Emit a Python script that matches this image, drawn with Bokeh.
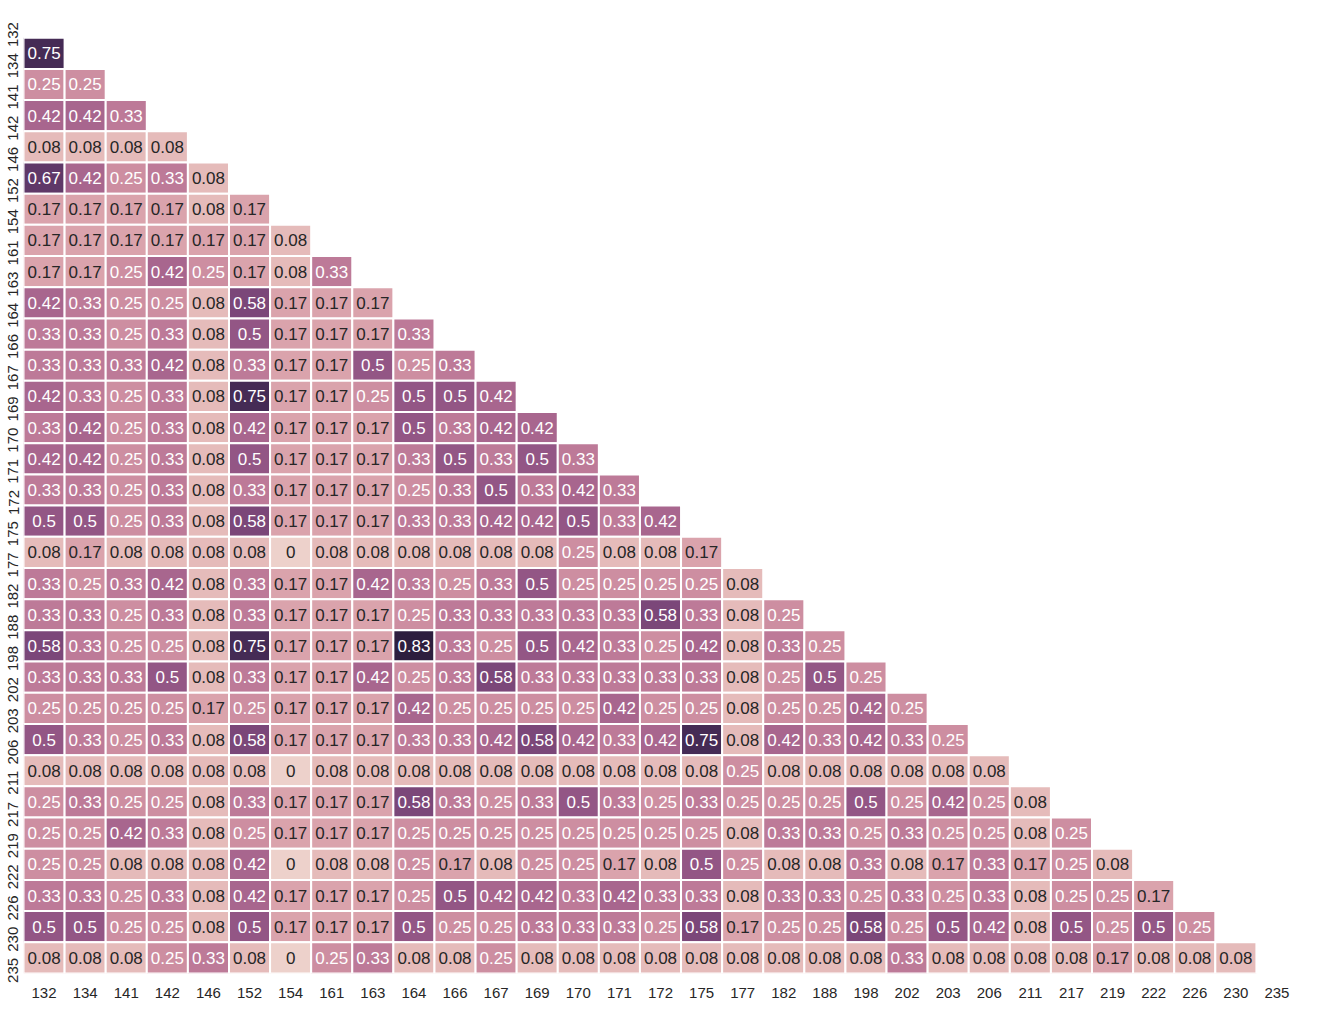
import numpy as np
from bokeh.plotting import figure
from bokeh.models import ColumnDataSource
from bokeh.core.properties import value
from bokeh.embed import file_html
from bokeh.resources import INLINE

labels = ["132", "134", "141", "142", "146", "152", "154", "161", "163", "164", "166",
          "167", "169", "170", "171", "172", "175", "177", "182", "188", "198", "202",
          "203", "206", "211", "217", "219", "222", "226", "230", "235"]

# lower triangle, row i (label i+1) holds values against labels[0..i]
rows = [
    [0.75],
    [0.25, 0.25],
    [0.42, 0.42, 0.33],
    [0.08, 0.08, 0.08, 0.08],
    [0.67, 0.42, 0.25, 0.33, 0.08],
    [0.17, 0.17, 0.17, 0.17, 0.08, 0.17],
    [0.17, 0.17, 0.17, 0.17, 0.17, 0.17, 0.08],
    [0.17, 0.17, 0.25, 0.42, 0.25, 0.17, 0.08, 0.33],
    [0.42, 0.33, 0.25, 0.25, 0.08, 0.58, 0.17, 0.17, 0.17],
    [0.33, 0.33, 0.25, 0.33, 0.08, 0.5, 0.17, 0.17, 0.17, 0.33],
    [0.33, 0.33, 0.33, 0.42, 0.08, 0.33, 0.17, 0.17, 0.5, 0.25, 0.33],
    [0.42, 0.33, 0.25, 0.33, 0.08, 0.75, 0.17, 0.17, 0.25, 0.5, 0.5, 0.42],
    [0.33, 0.42, 0.25, 0.33, 0.08, 0.42, 0.17, 0.17, 0.17, 0.5, 0.33, 0.42, 0.42],
    [0.42, 0.42, 0.25, 0.33, 0.08, 0.5, 0.17, 0.17, 0.17, 0.33, 0.5, 0.33, 0.5, 0.33],
    [0.33, 0.33, 0.25, 0.33, 0.08, 0.33, 0.17, 0.17, 0.17, 0.25, 0.33, 0.5, 0.33, 0.42, 0.33],
    [0.5, 0.5, 0.25, 0.33, 0.08, 0.58, 0.17, 0.17, 0.17, 0.33, 0.33, 0.42, 0.42, 0.5, 0.33, 0.42],
    [0.08, 0.17, 0.08, 0.08, 0.08, 0.08, 0, 0.08, 0.08, 0.08, 0.08, 0.08, 0.08, 0.25, 0.08, 0.08, 0.17],
    [0.33, 0.25, 0.33, 0.42, 0.08, 0.33, 0.17, 0.17, 0.42, 0.33, 0.25, 0.33, 0.5, 0.25, 0.25, 0.25, 0.25, 0.08],
    [0.33, 0.33, 0.25, 0.33, 0.08, 0.33, 0.17, 0.17, 0.17, 0.25, 0.33, 0.33, 0.33, 0.33, 0.33, 0.58, 0.33, 0.08, 0.25],
    [0.58, 0.33, 0.25, 0.25, 0.08, 0.75, 0.17, 0.17, 0.17, 0.83, 0.33, 0.25, 0.5, 0.42, 0.33, 0.25, 0.42, 0.08, 0.33, 0.25],
    [0.33, 0.33, 0.33, 0.5, 0.08, 0.33, 0.17, 0.17, 0.42, 0.25, 0.33, 0.58, 0.33, 0.33, 0.33, 0.33, 0.33, 0.08, 0.25, 0.5, 0.25],
    [0.25, 0.25, 0.25, 0.25, 0.17, 0.25, 0.17, 0.17, 0.17, 0.42, 0.25, 0.25, 0.25, 0.25, 0.42, 0.25, 0.25, 0.08, 0.25, 0.25, 0.42, 0.25],
    [0.5, 0.33, 0.25, 0.33, 0.08, 0.58, 0.17, 0.17, 0.17, 0.33, 0.33, 0.42, 0.58, 0.42, 0.33, 0.42, 0.75, 0.08, 0.42, 0.33, 0.42, 0.33, 0.25],
    [0.08, 0.08, 0.08, 0.08, 0.08, 0.08, 0, 0.08, 0.08, 0.08, 0.08, 0.08, 0.08, 0.08, 0.08, 0.08, 0.08, 0.25, 0.08, 0.08, 0.08, 0.08, 0.08, 0.08],
    [0.25, 0.33, 0.25, 0.25, 0.08, 0.33, 0.17, 0.17, 0.17, 0.58, 0.33, 0.25, 0.33, 0.5, 0.33, 0.25, 0.33, 0.25, 0.25, 0.25, 0.5, 0.25, 0.42, 0.25, 0.08],
    [0.25, 0.25, 0.42, 0.33, 0.08, 0.25, 0.17, 0.17, 0.17, 0.25, 0.25, 0.25, 0.25, 0.25, 0.25, 0.25, 0.25, 0.08, 0.33, 0.33, 0.25, 0.33, 0.25, 0.25, 0.08, 0.25],
    [0.25, 0.25, 0.08, 0.08, 0.08, 0.42, 0, 0.08, 0.08, 0.25, 0.17, 0.08, 0.25, 0.25, 0.17, 0.08, 0.5, 0.25, 0.08, 0.08, 0.33, 0.08, 0.17, 0.33, 0.17, 0.25, 0.08],
    [0.33, 0.33, 0.25, 0.33, 0.08, 0.42, 0.17, 0.17, 0.17, 0.25, 0.5, 0.42, 0.42, 0.33, 0.42, 0.33, 0.33, 0.08, 0.33, 0.33, 0.25, 0.33, 0.25, 0.33, 0.08, 0.25, 0.25, 0.17],
    [0.5, 0.5, 0.25, 0.25, 0.08, 0.5, 0.17, 0.17, 0.17, 0.5, 0.25, 0.25, 0.33, 0.33, 0.33, 0.25, 0.58, 0.17, 0.25, 0.25, 0.58, 0.25, 0.5, 0.42, 0.08, 0.5, 0.25, 0.5, 0.25],
    [0.08, 0.08, 0.08, 0.25, 0.33, 0.08, 0, 0.25, 0.33, 0.08, 0.08, 0.25, 0.08, 0.08, 0.08, 0.08, 0.08, 0.08, 0.08, 0.08, 0.08, 0.33, 0.08, 0.08, 0.08, 0.08, 0.17, 0.08, 0.08, 0.08],
]


# seaborn-style cubehelix palette (start=0, rot=0.4, light=0.85, dark=0.15)
def cubehelix(t, start=0.0, rot=0.4, hue=0.8, light=0.85, dark=0.15):
    x = light + (dark - light) * t
    a = hue * x * (1 - x) / 2
    phi = 2 * np.pi * (start / 3 + rot * x)
    r = x + a * (-0.14861 * np.cos(phi) + 1.78277 * np.sin(phi))
    g = x + a * (-0.29227 * np.cos(phi) - 0.90649 * np.sin(phi))
    b = x + a * (1.97294 * np.cos(phi))
    rgb = np.clip([r, g, b], 0, 1)
    return rgb


def lum(rgb):
    c = np.where(rgb <= 0.03928, rgb / 12.92, ((rgb + 0.055) / 1.055) ** 2.4)
    return 0.2126 * c[0] + 0.7152 * c[1] + 0.0722 * c[2]


vmax = max(max(r) for r in rows)
xs, ys, vals, cols, tcols, txt = [], [], [], [], [], []
for i, r in enumerate(rows):
    for j, v in enumerate(r):
        rgb = cubehelix(v / vmax)
        xs.append(labels[j])
        ys.append(labels[i + 1])
        vals.append(v)
        cols.append("#%02x%02x%02x" % tuple(int(round(c * 255)) for c in rgb))
        tcols.append("#262626" if lum(rgb) > 0.408 else "white")
        txt.append("0" if v == 0 else ("%g" % v))

src = ColumnDataSource(dict(x=xs, y=ys, v=vals, c=cols, tc=tcols, t=txt))

p = figure(width=1305, height=1000, x_range=labels, y_range=labels[::-1],
           output_backend="svg", toolbar_location=None,
           min_border_left=8, min_border_right=8, min_border_top=6, min_border_bottom=8)
p.rect("x", "y", 1, 1, source=src, fill_color="c", line_color="white", line_width=2)
p.text("x", "y", text="t", source=src, text_color="tc", text_align="center",
       text_baseline="middle", text_font_size="17px", text_font=value("Liberation Sans"))

p.outline_line_color = None
p.grid.grid_line_color = None
for ax in (p.xaxis[0], p.yaxis[0]):
    ax.axis_line_color = None
    ax.major_tick_line_color = None
    ax.minor_tick_line_color = None
    ax.major_label_text_font = "Liberation Sans"
    ax.major_label_text_font_size = "15px"
    ax.major_label_text_color = "#262626"
p.yaxis.major_label_orientation = np.pi / 2
p.xaxis.major_label_standoff = 8
p.yaxis.major_label_standoff = 4

open("out.html", "w").write(file_html(p, INLINE))
